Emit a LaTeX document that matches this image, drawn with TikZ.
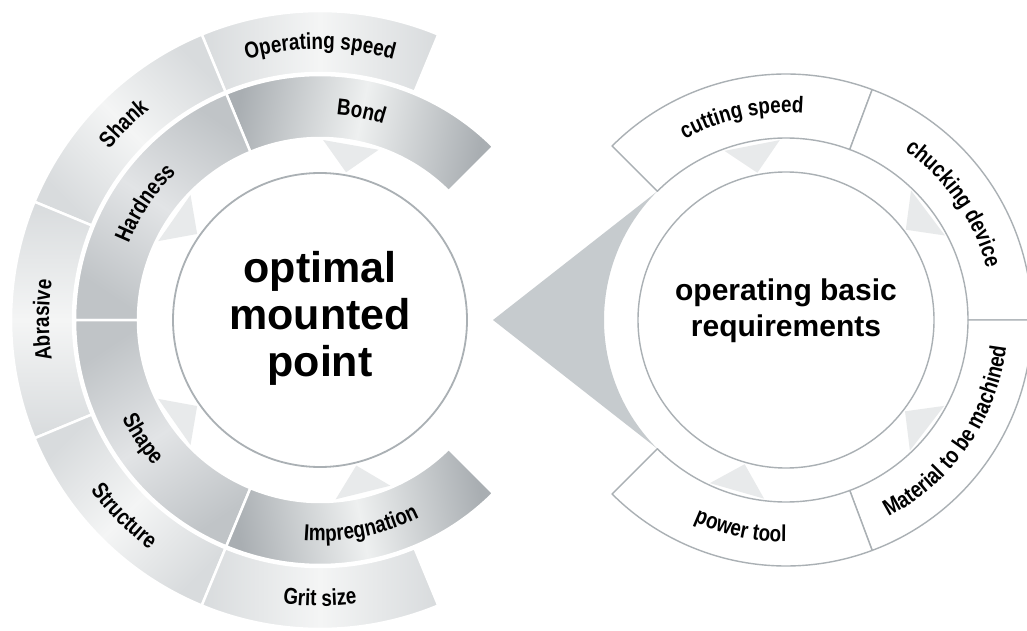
\documentclass[tikz,border=0pt]{standalone}
\usepackage{fontspec}
\setmainfont{Liberation Sans}
\newfontfamily\ringfont{Liberation Sans}[FakeStretch=0.82]
\usetikzlibrary{calc,decorations.text}
\definecolor{linegray}{HTML}{AAB0B4}
\definecolor{arrowgray}{HTML}{C6CBCE}
\definecolor{pointgray}{HTML}{E8EAEB}
\definecolor{outerend}{HTML}{D8DBDD}
\definecolor{outermid}{HTML}{F4F5F5}
\definecolor{darkend}{HTML}{A9AEB2}
\definecolor{darkmid}{HTML}{EEF0F0}
\definecolor{hatchend}{HTML}{C0C4C7}
\definecolor{hatchmid}{HTML}{E2E4E6}
\newcommand{\labelfmt}{\ringfont\bfseries\fontsize{23}{23}\selectfont}
% ring piece: centre, start angle, end angle, inner radius, outer radius
\newcommand{\ringseg}[5]{([shift={(#2:#4)}]#1) arc[start angle=#2, end angle=#3, radius=#4] -- ([shift={(#3:#5)}]#1) arc[start angle=#3, end angle=#2, radius=#5] -- cycle}
% label path: centre, start angle, end angle, radius
\newcommand{\labelarc}[4]{([shift={(#2:#4)}]#1) arc[start angle=#2, end angle=#3, radius=#4]}

\begin{document}
\begin{tikzpicture}[x=1pt, y=1pt,
    outerseg/.style={draw=white, line width=2.5pt, top color=outerend, bottom color=outerend, middle color=outermid, shading angle=#1},
    darkseg/.style={draw=white, line width=2.5pt, top color=darkend, bottom color=darkend, middle color=darkmid, shading angle=#1},
    hatchseg/.style={draw=white, line width=2.5pt, top color=hatchend, bottom color=hatchend, middle color=hatchmid, shading angle=#1},
    openseg/.style={draw=linegray, fill=white, line width=1.4pt, line join=round},
    pointer/.style={fill=pointgray},
    ringtext/.style={decorate, decoration={text along path, text align=center, text={|\labelfmt|#1}}}]
\useasboundingbox (0,0) rectangle (1027,630);
\fill[white] (0,0) rectangle (1027,630);
\clip (0,0) rectangle (1027,630);
\coordinate (L) at (320,310);
\coordinate (R) at (786,310);
\coordinate (tip) at (493,310);
%============ left: outer ring
\path[outerseg=90] \ringseg{L}{67.5}{112.5}{247}{309};
\path[outerseg=135] \ringseg{L}{112.5}{157.5}{247}{309};
\path[outerseg=180] \ringseg{L}{157.5}{202.5}{247}{309};
\path[outerseg=225] \ringseg{L}{202.5}{247.5}{247}{309};
\path[outerseg=270] \ringseg{L}{247.5}{292.5}{247}{309};
%============ left: middle ring
\path[darkseg=78.75] \ringseg{L}{45}{112.5}{182}{245};
\path[hatchseg=146.25] \ringseg{L}{112.5}{180}{182}{245};
\path[hatchseg=213.75] \ringseg{L}{180}{247.5}{182}{245};
\path[darkseg=281.25] \ringseg{L}{247.5}{315}{182}{245};
%============ left: pointers and centre
\fill[pointer] ([shift={(71:180)}]L) -- ([shift={(80:150)}]L) -- ([shift={(89:180)}]L) -- cycle;
\fill[pointer] ([shift={(136:180)}]L) -- ([shift={(145:150)}]L) -- ([shift={(154:180)}]L) -- cycle;
\fill[pointer] ([shift={(206:180)}]L) -- ([shift={(215:150)}]L) -- ([shift={(224:180)}]L) -- cycle;
\fill[pointer] ([shift={(275:180)}]L) -- ([shift={(284:150)}]L) -- ([shift={(293:180)}]L) -- cycle;
\node[draw=linegray, fill=white, line width=1.8pt, circle, minimum size=294pt, inner sep=0pt] (toolring) at (L) {};
\node[align=center, font=\bfseries\fontsize{43}{47}\selectfont, yshift=2pt] (tool) at (L) {optimal\\mounted\\point};
%============ left: labels
\path[ringtext={Operating speed}] \labelarc{L}{112.5}{67.5}{271};
\path[ringtext={Shank}] \labelarc{L}{157.5}{112.5}{271};
\path[ringtext={Abrasive}] \labelarc{L}{202.5}{157.5}{271};
\path[ringtext={Structure}] \labelarc{L}{202.5}{247.5}{286};
\path[ringtext={Grit size}] \labelarc{L}{247.5}{292.5}{286};
\path[ringtext={Bond}] \labelarc{L}{112.5}{45}{206};
\path[ringtext={Hardness}] \labelarc{L}{180}{112.5}{206};
\path[ringtext={Shape}] \labelarc{L}{180}{247.5}{221};
\path[ringtext={Impregnation}] \labelarc{L}{247.5}{315}{221};
%============ right: arrow and ring
\fill[arrowgray] (tip) -- ([shift={(135:182)}]R) arc[start angle=135, end angle=225, radius=182] -- cycle;
\path[openseg] \ringseg{R}{69.5}{135}{182}{246};
\path[openseg] \ringseg{R}{0}{69.5}{182}{246};
\path[openseg] \ringseg{R}{-69.5}{0}{182}{246};
\path[openseg] \ringseg{R}{225}{290.5}{182}{246};
\fill[pointer] ([shift={(92:180)}]R) -- ([shift={(101:150)}]R) -- ([shift={(110:180)}]R) -- cycle;
\fill[pointer] ([shift={(28:180)}]R) -- ([shift={(37:150)}]R) -- ([shift={(46:180)}]R) -- cycle;
\fill[pointer] ([shift={(-46.5:180)}]R) -- ([shift={(-37.5:150)}]R) -- ([shift={(-28.5:180)}]R) -- cycle;
\fill[pointer] ([shift={(245:180)}]R) -- ([shift={(254:150)}]R) -- ([shift={(263:180)}]R) -- cycle;
\node[draw=linegray, line width=1.4pt, circle, minimum size=296pt, inner sep=0pt] (reqring) at (R) {};
\node[align=center, font=\bfseries\fontsize{30}{36}\selectfont, yshift=9pt] (req) at (R) {operating basic\\requirements};
%============ right: labels
\path[ringtext={cutting speed}] \labelarc{R}{135}{69.5}{207};
\path[ringtext={chucking device}] \labelarc{R}{69.5}{0}{207};
\path[ringtext={Material to be machined}] \labelarc{R}{-69.5}{0}{222};
\path[ringtext={power tool}] \labelarc{R}{225}{290.5}{222};
\end{tikzpicture}
\end{document}
